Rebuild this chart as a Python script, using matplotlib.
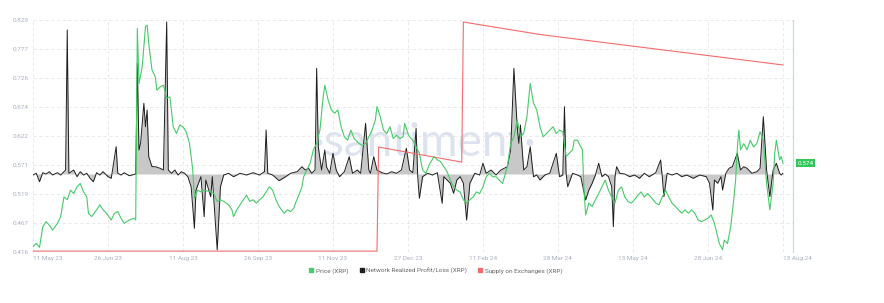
#!/usr/bin/env python3
"""
XRP: price, network realized profit/loss, supply on exchanges (santiment-style chart)
"""

import matplotlib
matplotlib.use('Agg')
import matplotlib.pyplot as plt
from matplotlib.lines import Line2D
from matplotlib.transforms import blended_transform_factory
import pandas as pd

plt.rcParams['font.family'] = ['Roboto', 'DejaVu Sans']

START = pd.Timestamp('2023-05-11')

# Price (XRP), USD - day offset from START
price_days = [0, 2, 4, 6, 8, 10, 12, 15, 17, 19, 21, 23, 25, 27, 29, 31, 33, 34, 36, 39,
              41, 43, 45, 48, 50, 52, 54, 56, 59, 62, 63, 64, 65, 67, 69, 70, 71, 73, 75, 76,
              78, 80, 82, 84, 86, 88, 90, 92, 94, 96, 98, 99, 101, 103, 105, 109, 111, 113, 115, 117,
              120, 122, 123, 125, 127, 129, 131, 133, 135, 137, 139, 141, 143, 145, 147, 149, 151, 154, 156, 158,
              160, 161, 163, 165, 166, 168, 170, 172, 174, 176, 178, 179, 181, 183, 185, 187, 189, 191, 193, 195,
              197, 200, 202, 204, 206, 208, 210, 211, 213, 215, 217, 219, 221, 223, 225, 227, 228, 230, 231, 233,
              235, 237, 239, 241, 243, 246, 248, 250, 252, 254, 256, 258, 260, 262, 264, 266, 268, 270, 272, 274,
              276, 278, 280, 282, 284, 286, 288, 291, 293, 295, 297, 299, 301, 303, 305, 307, 309, 311, 313, 315,
              317, 319, 321, 323, 325, 327, 329, 331, 332, 334, 335, 337, 338, 339, 341, 343, 345, 347, 349, 351,
              353, 355, 357, 359, 361, 363, 365, 367, 369, 371, 373, 375, 377, 379, 382, 384, 386, 388, 390, 392,
              394, 396, 398, 400, 402, 404, 406, 408, 410, 412, 414, 416, 418, 420, 421, 423, 424, 426, 428, 430,
              431, 432, 433, 434, 436, 438, 440, 442, 444, 446, 448, 450, 452, 454, 455, 456, 457, 458, 459, 460]
price_vals = [0.4255, 0.4315, 0.4243, 0.461, 0.470, 0.464, 0.455, 0.467, 0.479, 0.514, 0.509, 0.526, 0.520, 0.532, 0.538, 0.523, 0.514, 0.485, 0.479, 0.491,
              0.500, 0.491, 0.485, 0.473, 0.485, 0.488, 0.476, 0.467, 0.473, 0.476, 0.473, 0.814, 0.716, 0.746, 0.817, 0.820, 0.787, 0.740, 0.728, 0.704,
              0.710, 0.713, 0.690, 0.692, 0.639, 0.627, 0.642, 0.639, 0.630, 0.609, 0.562, 0.512, 0.526, 0.523, 0.526, 0.523, 0.520, 0.506, 0.509, 0.506,
              0.500, 0.491, 0.479, 0.491, 0.500, 0.509, 0.517, 0.506, 0.509, 0.503, 0.509, 0.514, 0.523, 0.532, 0.526, 0.509, 0.497, 0.485, 0.491, 0.488,
              0.494, 0.503, 0.517, 0.532, 0.550, 0.562, 0.574, 0.598, 0.609, 0.633, 0.692, 0.713, 0.687, 0.669, 0.663, 0.669, 0.639, 0.621, 0.615, 0.633,
              0.618, 0.609, 0.606, 0.609, 0.621, 0.633, 0.651, 0.675, 0.657, 0.633, 0.627, 0.639, 0.618, 0.624, 0.618, 0.621, 0.645, 0.627, 0.621, 0.615,
              0.603, 0.592, 0.562, 0.556, 0.571, 0.586, 0.580, 0.577, 0.568, 0.559, 0.544, 0.532, 0.526, 0.523, 0.509, 0.503, 0.509, 0.514, 0.523, 0.520,
              0.532, 0.550, 0.556, 0.550, 0.550, 0.544, 0.538, 0.568, 0.609, 0.621, 0.651, 0.621, 0.627, 0.657, 0.716, 0.681, 0.669, 0.639, 0.621, 0.627,
              0.633, 0.639, 0.627, 0.633, 0.630, 0.586, 0.592, 0.598, 0.615, 0.615, 0.609, 0.598, 0.526, 0.482, 0.503, 0.497, 0.509, 0.520, 0.532, 0.544,
              0.526, 0.514, 0.503, 0.526, 0.532, 0.514, 0.506, 0.503, 0.509, 0.517, 0.523, 0.514, 0.520, 0.514, 0.503, 0.500, 0.514, 0.526, 0.514, 0.503,
              0.497, 0.491, 0.485, 0.491, 0.485, 0.491, 0.485, 0.473, 0.470, 0.473, 0.476, 0.482, 0.467, 0.443, 0.431, 0.420, 0.437, 0.431, 0.461, 0.514,
              0.544, 0.598, 0.633, 0.598, 0.609, 0.598, 0.615, 0.603, 0.609, 0.630, 0.615, 0.538, 0.491, 0.538, 0.592, 0.615, 0.598, 0.580, 0.586, 0.574]

# Network Realized Profit/Loss (XRP), millions
pl_days = [0, 2, 4, 6, 8, 10, 12, 15, 17, 20, 21, 22, 25, 27, 29, 31, 33, 35, 37, 39,
           41, 43, 46, 48, 51, 52, 54, 56, 59, 63, 64, 65, 66, 68, 69, 70, 71, 73, 75, 78,
           80, 82, 83, 85, 87, 89, 91, 93, 95, 97, 99, 100, 103, 105, 106, 109, 110, 113, 115, 117,
           120, 123, 127, 131, 135, 139, 142, 143, 144, 147, 151, 155, 158, 162, 165, 167, 169, 171, 173, 174,
           175, 177, 179, 180, 182, 184, 186, 188, 191, 194, 196, 199, 201, 204, 206, 207, 209, 211, 214, 217,
           220, 223, 226, 229, 231, 233, 235, 236, 237, 239, 242, 245, 248, 251, 252, 256, 258, 260, 262, 264,
           266, 268, 271, 274, 276, 278, 281, 284, 287, 291, 293, 295, 297, 298, 299, 301, 303, 305, 307, 309,
           311, 314, 317, 321, 323, 325, 326, 327, 328, 331, 334, 336, 339, 341, 343, 345, 347, 349, 351, 353,
           355, 356, 357, 358, 360, 363, 366, 369, 372, 375, 378, 382, 385, 386, 387, 389, 392, 395, 398, 401,
           405, 409, 413, 415, 417, 418, 420, 422, 423, 425, 427, 429, 432, 434, 436, 438, 441, 444, 446, 448,
           450, 452, 454, 456, 458, 459, 460]
pl_vals = [-1, 0.7, -7.7, 1.3, 0, 2.3, -1, 1.3, -1, 4, 144, 0.7, 4, -2.7, 2.3, -1, 0.7, -4.3, -7.7, 1.3,
           -1, 2.3, -2.7, -4.3, 27.3, 0.7, -1, 1.3, -1.7, 0, 110.7, 24, 30.7, 70.7, 47.3, 64, 17.3, 7.3, 7.3, 5.7,
           4, 152, 4, 0.7, 4, -1, 2.3, 0.7, -2.7, -12.7, -54.3, -16, -2.7, -42.7, -6, -22.7, -2.7, -76, -12.7, -1,
           0.7, -2.7, 0.7, -1, 1.3, -1, 2.3, 44, 0.7, -1, -6.7, -2.7, 0.7, 2.3, 7.3, 4, 5.7, 0.7, 4, 105.7,
           27.3, 4, 24, 7.3, 0.7, 20.7, 4, -2.7, 2.3, 17.3, 0.7, 4, 0.7, 50.7, 4, 0.7, 17.3, 4, 1.3, 0,
           2.3, 0.7, 4, 25.7, 4, 1.3, 45.7, -2.7, -24.3, -2.7, 0.7, -1, 1.3, -29.3, -2.7, -9.3, -19.3, -6, -2.7, -9.3,
           -46, -9.3, 0.7, -1, 10.7, 0.7, 4, -1, 4, 7.3, 24, 105.7, 47.3, 30.7, 49, 4, 7.3, 27.3, -2.7, -1,
           -6, -1, 0.7, 20.7, -2.7, -1, 67.3, 0.7, -12.7, 0.7, -1, -2.7, -26, -16, -9.3, -1, 10.7, -2.7, 0, -2.7,
           -12.7, -52.7, -2.7, 7.3, 0.7, 0, -2.7, -1, -4.3, 0.7, -2.7, 1.3, 14, -2.7, -22.7, 0.7, -1, 0.7, -2.7, -1,
           -4.3, -1, -2.7, -9.3, -36, -6, -9.3, -2.7, -16, 0.7, 5.7, 7.3, 20.7, 4, 7.3, 5.7, 0.7, 2.3, 5.7, 57.3,
           4, -22.7, 4, 10.7, 0.7, -1, 0.7]

# Supply on Exchanges (XRP), billions
supply_days = [0, 211, 212, 263, 264, 311, 460]
supply_vals = [3.103, 3.103, 3.462, 3.410, 3.893, 3.850, 3.745]

price_ticks = [0.416, 0.467, 0.519, 0.571, 0.622, 0.674, 0.726, 0.777, 0.829]
date_ticks = ['2023-05-11', '2023-06-26', '2023-08-11', '2023-09-26', '2023-11-11', '2023-12-27',
              '2024-02-11', '2024-03-28', '2024-05-13', '2024-06-28', '2024-08-13']
last_price = 0.574

GREEN = '#45cc68'
BLACK = '#1e1e1e'
RED = '#f56b6b'
LABEL = '#a9b0c0'


def to_dates(days):
    return [START + pd.Timedelta(days=d) for d in days]


def main():
    fig = plt.figure(figsize=(8.84, 3.03), dpi=100)
    left, right, bottom, top = 33 / 884, 793 / 884, 1 - 252 / 303, 1 - 20 / 303
    ax = fig.add_axes([left, bottom, right - left, top - bottom])

    x0 = START
    x1 = START + pd.Timedelta(days=466.2)

    # base axes: grid + price scale on the right
    ax.set_xlim(x0, x1)
    ax.set_ylim(price_ticks[0], price_ticks[-1])
    ax.yaxis.tick_right()
    ax.set_yticks(price_ticks)
    ax.set_yticklabels([f'{t:.3f}' for t in price_ticks])
    ax.tick_params(axis='y', length=0, pad=3, labelsize=4.6, labelcolor=LABEL)
    tick_dates = pd.to_datetime(date_ticks)
    ax.set_xticks(tick_dates)
    ax.set_xticklabels([d.strftime('%d %b %y') for d in tick_dates])
    ax.tick_params(axis='x', length=0, pad=3, labelsize=4.6, labelcolor=LABEL)
    xt = ax.get_xticklabels()
    xt[0].set_ha('left')
    xt[-1].set_ha('left')
    ax.grid(True, color='#e6e6e6', lw=0.6, ls=(0, (4, 3)))
    for s in ['top', 'left', 'bottom']:
        ax.spines[s].set_visible(False)
    ax.spines['right'].set_color('#b9e8c5')
    ax.spines['right'].set_linewidth(0.9)

    # watermark
    ax.text(0.515, 0.47, '·santiment·', transform=ax.transAxes, ha='center', va='center',
            fontsize=33, family=['Lato', 'DejaVu Sans'], color='#dde3ee', zorder=0)

    # network realized profit/loss
    ax_pl = ax.twinx()
    pl_x = to_dates(pl_days)
    ax_pl.fill_between(pl_x, pl_vals, 0, color='#c8c8c8', lw=0)
    ax_pl.plot(pl_x, pl_vals, color=BLACK, lw=0.7)
    ax_pl.set_ylim(-78, 154)

    # supply on exchanges
    ax_sup = ax.twinx()
    ax_sup.plot(to_dates(supply_days), supply_vals, color=RED, lw=0.8)
    ax_sup.set_ylim(3.10, 3.90)

    # price
    ax_px = ax.twinx()
    ax_px.plot(to_dates(price_days), price_vals, color=GREEN, lw=0.8)
    ax_px.set_ylim(price_ticks[0], price_ticks[-1])

    for a in (ax_pl, ax_sup, ax_px):
        a.set_xlim(x0, x1)
        a.set_yticks([])
        for s in a.spines.values():
            s.set_visible(False)

    # last price tag
    trans = blended_transform_factory(ax.transAxes, ax.transData)
    ax_px.text(1.006, last_price, f'{last_price:.3f}', transform=trans, ha='left', va='center',
               fontsize=4.6, color='white', zorder=10,
               bbox=dict(boxstyle='square,pad=0.25', fc='#2fc95a', ec='none'))

    # legend
    handles = [Line2D([], [], marker='s', ls='none', color=GREEN, markersize=3),
               Line2D([], [], marker='s', ls='none', color=BLACK, markersize=3),
               Line2D([], [], marker='s', ls='none', color=RED, markersize=3)]
    labels = ['Price (XRP)', 'Network Realized Profit/Loss (XRP)', 'Supply on Exchanges (XRP)']
    fig.legend(handles, labels, loc='center', bbox_to_anchor=(436 / 884, 1 - 271 / 303), ncol=3,
               frameon=False, fontsize=4.6, handlelength=0.6, handletextpad=0.4, columnspacing=1.8,
               labelcolor='#666666')

    fig.savefig('out.png', dpi=100)
    plt.close(fig)


if __name__ == '__main__':
    main()
